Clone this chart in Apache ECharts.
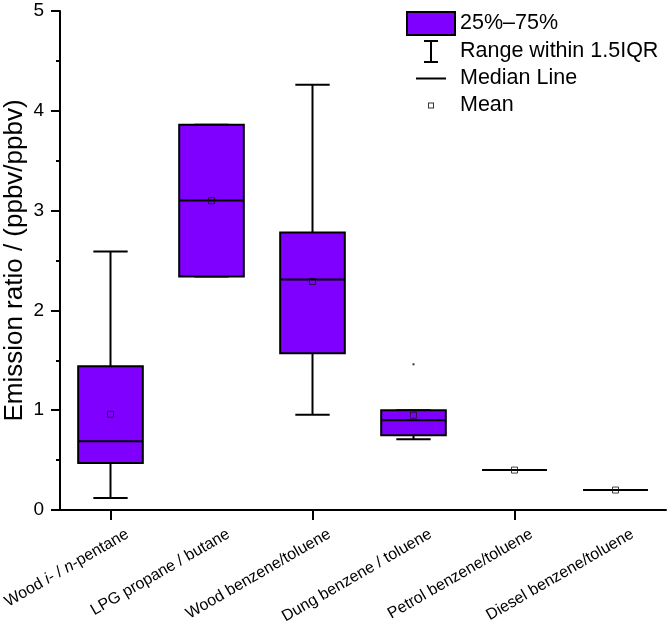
<!DOCTYPE html>
<html>
<head>
<meta charset="utf-8">
<script src="https://cdn.jsdelivr.net/npm/echarts@6/dist/echarts.min.js"></script>
<style>
html,body{margin:0;padding:0;background:#fff;}
#chart{width:669px;height:621px;}
</style>
</head>
<body>
<div id="chart"></div>
<script>
const categories = ['Wood i- / n-pentane', 'LPG propane / butane', 'Wood benzene/toluene', 'Dung benzene / toluene', 'Petrol benzene/toluene', 'Diesel benzene/toluene'];
const minVals    = [0.12, 2.34, 0.955, 0.71, 0.40, 0.20];
const q1Vals     = [0.47, 2.34, 1.57, 0.75, 0.40, 0.20];
const medianVals = [0.69, 3.10, 2.31, 0.90, 0.40, 0.20];
const q3Vals     = [1.44, 3.86, 2.78, 1.00, 0.40, 0.20];
const maxVals    = [2.59, 3.86, 4.26, 1.00, 0.40, 0.20];
const meanVals   = [0.96, 3.10, 2.29, 0.95, 0.40, 0.20];
const outlierPoints = [[3, 1.46]];
const yTicks = [0, 1, 2, 3, 4, 5];

const BOX_COLOR = '#7f00ff';
const FONT = '"Liberation Sans", Arial, sans-serif';
const BOX_FRAC = 0.64;
const CAP_FRAC = 0.34;

const boxData = categories.map((c, i) => [i, q1Vals[i], q3Vals[i]]);
const whiskerData = categories.map((c, i) => [i, minVals[i], q1Vals[i], q3Vals[i], maxVals[i]]);
const medianData = categories.map((c, i) => [i, medianVals[i]]);
const meanData = categories.map((c, i) => [i, meanVals[i]]);

const chart = echarts.init(document.getElementById('chart'), null, {renderer: 'canvas'});

const option = {
  animation: false,
  backgroundColor: '#fff',
  textStyle: {fontFamily: FONT},
  grid: [
    {left: 60, right: 3, top: 11, bottom: 111, containLabel: false, outerBoundsMode: 'none'},
    {left: 77, right: -14, top: 11, bottom: 111, containLabel: false, outerBoundsMode: 'none'}
  ],
  legend: {
    orient: 'vertical',
    left: 406,
    top: 11,
    padding: 0,
    itemWidth: 48,
    itemHeight: 23,
    itemGap: 4,
    textStyle: {fontFamily: FONT, fontSize: 21.5, color: '#000'},
    selectedMode: false,
    data: [
      {name: '25%–75%', icon: 'rect', itemStyle: {color: BOX_COLOR, borderColor: '#000', borderWidth: 2}},
      {name: 'Range within 1.5IQR', icon: 'path://M0,0L0,0ZM48,23L48,23ZM17,0H31V2H25V21H31V23H17V21H23V2H17Z', itemStyle: {color: '#000', borderWidth: 0}},
      {name: 'Median Line', icon: 'path://M0,0L0,0ZM48,23L48,23ZM9,10.5H39V12.5H9Z', itemStyle: {color: '#000', borderWidth: 0}},
      {name: 'Mean', icon: 'path://M0,0L0,0ZM48,23L48,23ZM21,8.5H27V14.5H21ZM22,9.5V13.5H26V9.5Z', itemStyle: {color: '#000', borderWidth: 0}}
    ]
  },
  xAxis: [
    {
      type: 'category',
      gridIndex: 0,
      data: categories,
      boundaryGap: true,
      axisLine: {lineStyle: {color: '#000', width: 2}},
      axisTick: {show: true, alignWithLabel: true, length: 10, lineStyle: {color: '#000', width: 2}},
      axisLabel: {show: false},
      splitLine: {show: false}
    },
    {
      type: 'category',
      gridIndex: 1,
      data: categories,
      boundaryGap: true,
      axisLine: {show: false},
      axisTick: {show: false},
      splitLine: {show: false},
      axisLabel: {
        show: true,
        interval: 0,
        rotate: 30,
        margin: 23,
        fontFamily: FONT,
        fontSize: 16,
        color: '#000',
        formatter: function (v, i) {
          if (i === 0) return '{n|Wood }{i|i}{n|- / }{i|n}{n|-pentane}';
          return '{n|' + v + '}';
        },
        rich: {
          n: {fontFamily: FONT, fontSize: 16, color: '#000'},
          i: {fontFamily: FONT, fontSize: 16, color: '#000', fontStyle: 'italic'}
        }
      }
    }
  ],
  yAxis: [
    {
      type: 'value',
      gridIndex: 0,
      min: yTicks[0],
      max: yTicks[yTicks.length - 1],
      interval: 1,
      name: 'Emission ratio / (ppbv/ppbv)',
      nameLocation: 'middle',
      nameRotate: 90,
      nameGap: 32,
      nameMoveOverlap: false,
      nameTextStyle: {fontFamily: FONT, fontSize: 26, color: '#000'},
      axisLine: {show: true, lineStyle: {color: '#000', width: 2}},
      axisTick: {show: true, length: 9, lineStyle: {color: '#000', width: 2}},
      minorTick: {show: true, splitNumber: 2, length: 4, lineStyle: {color: '#000', width: 2}},
      axisLabel: {fontFamily: FONT, fontSize: 19, color: '#000', margin: 16},
      splitLine: {show: false}
    },
    {
      type: 'value',
      gridIndex: 1,
      min: 0,
      max: 5,
      show: false
    }
  ],
  series: [
    {
      name: 'Range within 1.5IQR',
      type: 'custom',
      xAxisIndex: 0,
      yAxisIndex: 0,
      z: 2,
      itemStyle: {color: '#000'},
      data: whiskerData,
      renderItem: function (params, api) {
        const x = api.value(0);
        const pMin = api.coord([x, api.value(1)]);
        const pQ1 = api.coord([x, api.value(2)]);
        const pQ3 = api.coord([x, api.value(3)]);
        const pMax = api.coord([x, api.value(4)]);
        const cw = api.size([1, 0])[0] * CAP_FRAC;
        const st = {stroke: '#000', lineWidth: 2, fill: null};
        return {
          type: 'group',
          children: [
            {type: 'line', shape: {x1: pMin[0], y1: pMin[1], x2: pQ1[0], y2: pQ1[1]}, style: st},
            {type: 'line', shape: {x1: pQ3[0], y1: pQ3[1], x2: pMax[0], y2: pMax[1]}, style: st},
            {type: 'line', shape: {x1: pMin[0] - cw / 2, y1: pMin[1], x2: pMin[0] + cw / 2, y2: pMin[1]}, style: st},
            {type: 'line', shape: {x1: pMax[0] - cw / 2, y1: pMax[1], x2: pMax[0] + cw / 2, y2: pMax[1]}, style: st}
          ]
        };
      }
    },
    {
      name: '25%–75%',
      type: 'custom',
      xAxisIndex: 0,
      yAxisIndex: 0,
      z: 3,
      itemStyle: {color: BOX_COLOR},
      data: boxData,
      renderItem: function (params, api) {
        const x = api.value(0);
        const lo = api.coord([x, api.value(1)]);
        const hi = api.coord([x, api.value(2)]);
        const w = api.size([1, 0])[0] * BOX_FRAC;
        return {
          type: 'rect',
          shape: {x: lo[0] - w / 2, y: hi[1], width: w, height: lo[1] - hi[1]},
          style: {fill: BOX_COLOR, stroke: '#000', lineWidth: 2}
        };
      }
    },
    {
      name: 'Median Line',
      type: 'custom',
      xAxisIndex: 0,
      yAxisIndex: 0,
      z: 4,
      itemStyle: {color: '#000'},
      data: medianData,
      renderItem: function (params, api) {
        const p = api.coord([api.value(0), api.value(1)]);
        const w = api.size([1, 0])[0] * BOX_FRAC;
        return {
          type: 'line',
          shape: {x1: p[0] - w / 2, y1: p[1], x2: p[0] + w / 2, y2: p[1]},
          style: {stroke: '#000', lineWidth: 2}
        };
      }
    },
    {
      name: 'Mean',
      type: 'scatter',
      xAxisIndex: 0,
      yAxisIndex: 0,
      z: 5,
      symbol: 'rect',
      symbolSize: 6,
      itemStyle: {color: 'transparent', borderColor: '#111', borderWidth: 1},
      data: meanData
    },
    {
      name: 'Outlier',
      type: 'scatter',
      xAxisIndex: 0,
      yAxisIndex: 0,
      z: 5,
      symbol: 'rect',
      symbolSize: 2,
      itemStyle: {color: '#000'},
      data: outlierPoints
    }
  ]
};

chart.setOption(option);
</script>
</body>
</html>
